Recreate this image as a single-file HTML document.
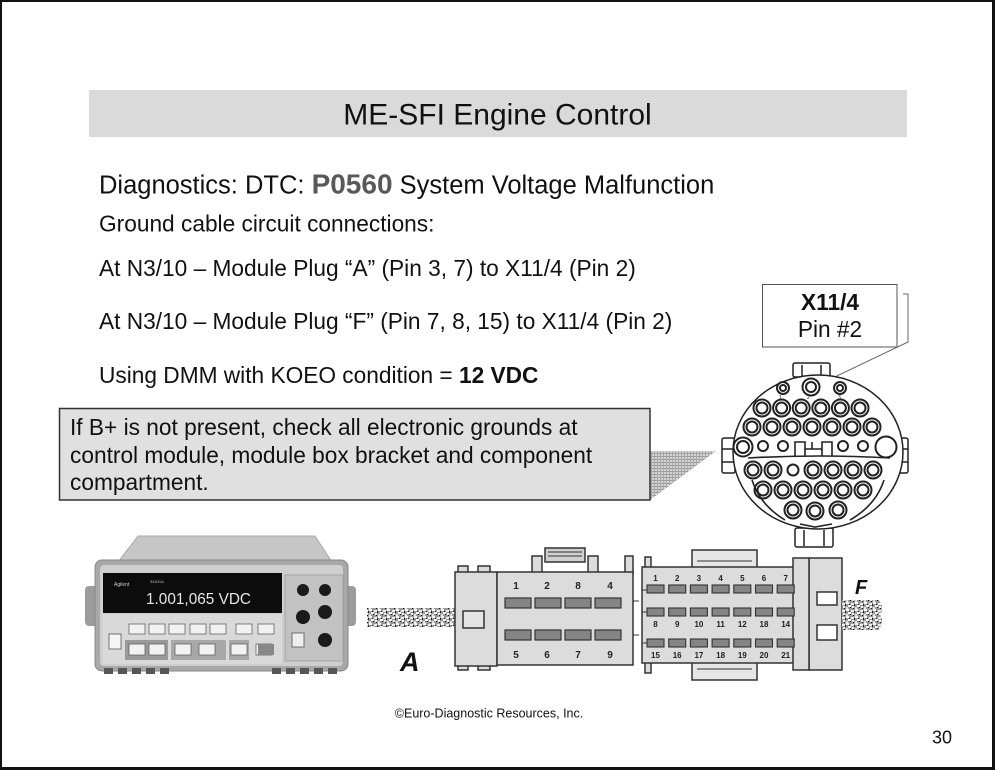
<!DOCTYPE html>
<html><head><meta charset="utf-8"><style>
html,body{margin:0;padding:0;background:#fff;}
svg{display:block;}
text{font-family:"Liberation Sans",Arial,sans-serif;}
</style></head><body>
<svg width="995" height="770" viewBox="0 0 995 770" xmlns="http://www.w3.org/2000/svg">
<defs>
<pattern id="spk" width="9" height="7" patternUnits="userSpaceOnUse">
<rect width="9" height="7" fill="#9a9a9a"/>
<rect x="0" y="0" width="3" height="2" fill="#f6f6f6"/>
<rect x="5" y="1" width="3" height="2" fill="#eeeeee"/>
<rect x="2" y="3" width="3" height="2" fill="#fafafa"/>
<rect x="6" y="4" width="2" height="2" fill="#f0f0f0"/>
<rect x="0" y="5" width="2" height="2" fill="#e2e2e2"/>
<rect x="4" y="5" width="1" height="1" fill="#111"/>
<rect x="8" y="2" width="1" height="2" fill="#222"/>
<rect x="3" y="2" width="1" height="1" fill="#222"/>
<rect x="7" y="6" width="1" height="1" fill="#111"/>
</pattern>
<pattern id="hatch" width="3" height="3" patternUnits="userSpaceOnUse">
<rect width="3" height="3" fill="#d4d4d4"/>
<rect x="0" y="0" width="3" height="1" fill="#9a9a9a"/>
<rect x="0" y="0" width="1" height="3" fill="#a8a8a8"/>
</pattern>
</defs>

<!-- page border -->
<rect x="0" y="0" width="995" height="2" fill="#111"/>
<rect x="0" y="0" width="2" height="770" fill="#111"/>
<rect x="992" y="0" width="3" height="770" fill="#111"/>
<rect x="0" y="767" width="995" height="3" fill="#111"/>

<!-- title bar -->
<rect x="89" y="90" width="818" height="47" fill="#dadada"/>
<text x="497.5" y="124.7" font-size="30" text-anchor="middle" fill="#111">ME-SFI Engine Control</text>

<!-- body text -->
<text x="99" y="193.5" font-size="25.5" fill="#111">Diagnostics: DTC: <tspan font-weight="bold" font-size="28" fill="#595959">P0560</tspan> System Voltage Malfunction</text>
<text x="99" y="231.6" font-size="22.7" fill="#111">Ground cable circuit connections:</text>
<text x="99" y="276" font-size="22.7" fill="#111">At N3/10 – Module Plug “A” (Pin 3, 7) to X11/4 (Pin 2)</text>
<text x="99" y="329" font-size="22.7" fill="#111">At N3/10 – Module Plug “F” (Pin 7, 8, 15) to X11/4 (Pin 2)</text>
<text x="99" y="383" font-size="22.7" fill="#111">Using DMM with KOEO condition = <tspan font-weight="bold">12 VDC</tspan></text>

<!-- callout -->
<polygon points="650,451 716,451 650,500" fill="url(#hatch)"/>
<rect x="59.5" y="408.5" width="590.5" height="91.5" fill="#e0e0e0" stroke="#333" stroke-width="1.5"/>
<text x="70" y="435" font-size="22.7" fill="#111">If B+ is not present, check all electronic grounds at</text>
<text x="70" y="463" font-size="22.7" fill="#111">control module, module box bracket and component</text>
<text x="70" y="490" font-size="22.7" fill="#111">compartment.</text>

<!-- X11/4 label -->
<rect x="762.5" y="284.5" width="134.5" height="62.5" fill="#fff" stroke="#555" stroke-width="1"/>
<text x="830" y="310" font-size="22.7" font-weight="bold" text-anchor="middle" fill="#111">X11/4</text>
<text x="830" y="337" font-size="22.7" text-anchor="middle" fill="#111">Pin #2</text>
<polyline points="903,294 908,294 908,342 820,384" fill="none" stroke="#666" stroke-width="1"/>

<!-- round connector -->
<g stroke="#222" fill="#fff" stroke-width="1.5">
<rect x="793" y="363" width="37" height="14" rx="2"/>
<line x1="802" y1="365" x2="802" y2="377"/><line x1="821" y1="365" x2="821" y2="377"/>
<rect x="795" y="528" width="38" height="19" rx="2"/>
<line x1="804" y1="530" x2="804" y2="546"/><line x1="824" y1="530" x2="824" y2="546"/>
<rect x="722" y="438" width="13" height="35" rx="2"/>
<line x1="722" y1="449" x2="735" y2="449"/><line x1="722" y1="462" x2="735" y2="462"/>
<rect x="896" y="438" width="12" height="35" rx="2"/>
<line x1="896" y1="449" x2="908" y2="449"/><line x1="896" y1="462" x2="908" y2="462"/>
<ellipse cx="818" cy="452" rx="85" ry="77"/>
</g>
<g stroke="#222" fill="#fff" stroke-width="2">
<circle cx="783" cy="388" r="6"/><circle cx="783" cy="388" r="3"/>
<circle cx="811" cy="387" r="8.5"/><circle cx="811" cy="387" r="5"/>
<circle cx="840" cy="388" r="6"/><circle cx="840" cy="388" r="3"/>
<circle cx="762" cy="408" r="8.5"/><circle cx="762" cy="408" r="5.5"/>
<circle cx="781.6" cy="408" r="8.5"/><circle cx="781.6" cy="408" r="5.5"/>
<circle cx="801.2" cy="408" r="8.5"/><circle cx="801.2" cy="408" r="5.5"/>
<circle cx="820.8" cy="408" r="8.5"/><circle cx="820.8" cy="408" r="5.5"/>
<circle cx="840.4" cy="408" r="8.5"/><circle cx="840.4" cy="408" r="5.5"/>
<circle cx="860" cy="408" r="8.5"/><circle cx="860" cy="408" r="5.5"/>
<circle cx="752" cy="427" r="8.5"/><circle cx="752" cy="427" r="5.5"/>
<circle cx="772" cy="427" r="8.5"/><circle cx="772" cy="427" r="5.5"/>
<circle cx="792" cy="427" r="8.5"/><circle cx="792" cy="427" r="5.5"/>
<circle cx="812" cy="427" r="8.5"/><circle cx="812" cy="427" r="5.5"/>
<circle cx="832" cy="427" r="8.5"/><circle cx="832" cy="427" r="5.5"/>
<circle cx="852" cy="427" r="8.5"/><circle cx="852" cy="427" r="5.5"/>
<circle cx="872" cy="427" r="8.5"/><circle cx="872" cy="427" r="5.5"/>
<circle cx="743" cy="447" r="9.5"/><circle cx="743" cy="447" r="6"/>
<circle cx="763" cy="446" r="5"/>
<circle cx="783" cy="446" r="5"/>
<circle cx="843" cy="446" r="5"/>
<circle cx="863" cy="446" r="5"/>
<circle cx="886" cy="447" r="10.5"/>
<circle cx="753" cy="470" r="8.5"/><circle cx="753" cy="470" r="5.5"/>
<circle cx="773" cy="470" r="8.5"/><circle cx="773" cy="470" r="5.5"/>
<circle cx="793" cy="470" r="5.5"/>
<circle cx="813" cy="470" r="8.5"/><circle cx="813" cy="470" r="5.5"/>
<circle cx="833" cy="470" r="8.5"/><circle cx="833" cy="470" r="5.5"/>
<circle cx="853" cy="470" r="8.5"/><circle cx="853" cy="470" r="5.5"/>
<circle cx="873" cy="470" r="8.5"/><circle cx="873" cy="470" r="5.5"/>
<circle cx="763" cy="490" r="8.5"/><circle cx="763" cy="490" r="5.5"/>
<circle cx="783" cy="490" r="8.5"/><circle cx="783" cy="490" r="5.5"/>
<circle cx="803" cy="490" r="8.5"/><circle cx="803" cy="490" r="5.5"/>
<circle cx="823" cy="490" r="8.5"/><circle cx="823" cy="490" r="5.5"/>
<circle cx="843" cy="490" r="8.5"/><circle cx="843" cy="490" r="5.5"/>
<circle cx="863" cy="490" r="8.5"/><circle cx="863" cy="490" r="5.5"/>
<circle cx="793" cy="510" r="8.5"/><circle cx="793" cy="510" r="5.5"/>
<circle cx="815" cy="511" r="8.5"/><circle cx="815" cy="511" r="5.5"/>
<circle cx="838" cy="510" r="8.5"/><circle cx="838" cy="510" r="5.5"/>
</g>
<g stroke="#222" fill="none" stroke-width="1.6">
<path d="M795,456 L795,442 L805,442 L805,456 M805,449 L822,449 M812,442 L812,449 M822,456 L822,442 L832,442 L832,456"/>
<path d="M748,458 Q818,454 890,458"/>
<path d="M752,480 Q760,505 785,520 M850,520 Q876,505 884,480"/>
<path d="M800,524 L815,527 L832,524"/>
</g>
<g font-size="5" fill="#222">
<text x="779" y="399">1</text><text x="807" y="399">2</text><text x="838" y="399">3</text>
</g>

<!-- DMM -->
<g>
<polygon points="138,536 315,536 332,562 118,562" fill="#c6c6c6" stroke="#aaa" stroke-width="1"/>
<rect x="85" y="586" width="14" height="40" rx="4" fill="#9c9c9c"/>
<rect x="344" y="586" width="12" height="40" rx="4" fill="#9c9c9c"/>
<rect x="95" y="560" width="253" height="111" rx="7" fill="#a8a8a8" stroke="#888" stroke-width="1"/>
<rect x="100" y="565" width="243" height="101" rx="4" fill="#cfcfcf"/>
<rect x="103" y="573" width="179" height="40" fill="#0c0c0c"/>
<text x="114" y="586" font-size="5" fill="#ccc">Agilent</text>
<text x="150" y="583" font-size="4" fill="#bbb">34401A</text>
<text x="146" y="604" font-family="Liberation Mono,monospace" font-size="16" fill="#e6e6e6" textLength="105" lengthAdjust="spacingAndGlyphs">1.001,065 VDC</text>
<rect x="285" y="575" width="58" height="86" fill="#c2c2c2" stroke="#999" stroke-width="0.8"/>
<g fill="#1a1a1a">
<circle cx="303" cy="590" r="6"/><circle cx="325" cy="590" r="6"/>
<circle cx="303" cy="617" r="7"/><circle cx="325" cy="612" r="7"/>
<circle cx="325" cy="640" r="7"/>
</g>
<rect x="292" y="633" width="12" height="14" fill="#eee" stroke="#555" stroke-width="0.8"/>
<rect x="103" y="614" width="179" height="50" fill="#d9d9d9"/>
<rect x="109" y="634" width="12" height="15" fill="#f5f5f5" stroke="#555" stroke-width="0.8"/>
<rect x="125" y="640" width="43" height="20" fill="#9a9a9a"/>
<rect x="171" y="640" width="55" height="20" fill="#a8a8a8"/>
<rect x="229" y="640" width="20" height="20" fill="#a8a8a8"/>
<g fill="#f2f2f2" stroke="#555" stroke-width="0.7">
<rect x="129" y="624" width="16" height="10"/><rect x="149" y="624" width="16" height="10"/>
<rect x="169" y="624" width="16" height="10"/><rect x="190" y="624" width="16" height="10"/>
<rect x="210" y="624" width="16" height="10"/><rect x="236" y="624" width="16" height="10"/>
<rect x="258" y="624" width="16" height="10"/>
<rect x="129" y="644" width="16" height="11"/><rect x="149" y="644" width="16" height="11"/>
<rect x="175" y="644" width="16" height="11"/><rect x="199" y="644" width="16" height="11"/>
<rect x="231" y="644" width="16" height="11"/><rect x="256" y="644" width="16" height="11"/>
</g>
<rect x="258" y="644" width="16" height="11" fill="#888"/>
<g fill="#555">
<rect x="104" y="668" width="9" height="6"/><rect x="118" y="668" width="9" height="6"/>
<rect x="132" y="668" width="9" height="6"/><rect x="146" y="668" width="9" height="6"/>
<rect x="160" y="668" width="9" height="6"/><rect x="272" y="668" width="9" height="6"/>
<rect x="286" y="668" width="9" height="6"/><rect x="300" y="668" width="9" height="6"/>
<rect x="314" y="668" width="9" height="6"/><rect x="328" y="668" width="9" height="6"/>
</g>
</g>

<!-- cable A -->
<rect x="367" y="608" width="88" height="19" fill="url(#spk)"/>
<text x="400" y="671" font-size="27" font-weight="bold" font-style="italic" fill="#111">A</text>

<!-- connector A -->
<g stroke="#333" stroke-width="1.5" fill="#dcdcdc">
<rect x="458" y="566" width="10" height="8"/><rect x="478" y="566" width="12" height="8"/>
<rect x="458" y="664" width="10" height="6"/><rect x="478" y="664" width="12" height="6"/>
<rect x="455" y="572" width="42" height="94"/>
<rect x="463" y="611" width="21" height="17" fill="#e4e4e4"/>
<rect x="545" y="548" width="40" height="14" fill="#cfcfcf"/>
<rect x="532" y="556" width="10" height="18"/><rect x="588" y="556" width="10" height="18"/>
<rect x="625" y="556" width="8" height="18"/>
<rect x="497" y="572" width="136" height="93"/>
</g>
<g stroke="#333" stroke-width="1" fill="none">
<line x1="548" y1="552" x2="582" y2="552"/><line x1="548" y1="556" x2="582" y2="556"/>
<line x1="633" y1="601" x2="639" y2="601"/><line x1="633" y1="635" x2="639" y2="635"/>
</g>
<g fill="#858585" stroke="#333" stroke-width="1.2">
<rect x="505" y="598" width="26" height="10"/><rect x="535" y="598" width="26" height="10"/>
<rect x="565" y="598" width="26" height="10"/><rect x="595" y="598" width="26" height="10"/>
<rect x="505" y="630" width="26" height="10"/><rect x="535" y="630" width="26" height="10"/>
<rect x="565" y="630" width="26" height="10"/><rect x="595" y="630" width="26" height="10"/>
</g>
<g font-size="10" font-weight="bold" fill="#222" text-anchor="middle">
<text x="516" y="589">1</text><text x="547" y="589">2</text><text x="578" y="589">8</text><text x="610" y="589">4</text>
<text x="516" y="658">5</text><text x="547" y="658">6</text><text x="578" y="658">7</text><text x="610" y="658">9</text>
</g>

<!-- connector F -->
<g stroke="#333" stroke-width="1.5" fill="#dcdcdc">
<rect x="692" y="550" width="65" height="18" fill="#e6e6e6"/>
<rect x="692" y="662" width="65" height="18" fill="#e6e6e6"/>
<rect x="645" y="557" width="6" height="11"/><rect x="645" y="662" width="6" height="11"/>
<rect x="642" y="567" width="152" height="96"/>
<rect x="809" y="558" width="33" height="112"/>
<rect x="793" y="558" width="16" height="112"/>
<rect x="817" y="592" width="20" height="13" fill="#fff"/>
<rect x="817" y="625" width="20" height="15" fill="#fff"/>
</g>
<g stroke="#333" stroke-width="1" fill="none">
<line x1="697" y1="561" x2="752" y2="561"/><line x1="697" y1="669" x2="752" y2="669"/>
<line x1="642" y1="590" x2="647" y2="590"/><line x1="642" y1="612" x2="647" y2="612"/><line x1="642" y1="643" x2="647" y2="643"/>
</g>
<g fill="#858585" stroke="#333" stroke-width="1.1">
<rect x="647" y="585" width="17" height="8"/><rect x="668.7" y="585" width="17" height="8"/><rect x="690.4" y="585" width="17" height="8"/><rect x="712.1" y="585" width="17" height="8"/><rect x="733.8" y="585" width="17" height="8"/><rect x="755.5" y="585" width="17" height="8"/><rect x="777.2" y="585" width="17" height="8"/>
<rect x="647" y="608" width="17" height="8"/><rect x="668.7" y="608" width="17" height="8"/><rect x="690.4" y="608" width="17" height="8"/><rect x="712.1" y="608" width="17" height="8"/><rect x="733.8" y="608" width="17" height="8"/><rect x="755.5" y="608" width="17" height="8"/><rect x="777.2" y="608" width="17" height="8"/>
<rect x="647" y="639" width="17" height="8"/><rect x="668.7" y="639" width="17" height="8"/><rect x="690.4" y="639" width="17" height="8"/><rect x="712.1" y="639" width="17" height="8"/><rect x="733.8" y="639" width="17" height="8"/><rect x="755.5" y="639" width="17" height="8"/><rect x="777.2" y="639" width="17" height="8"/>
</g>
<g font-size="8" font-weight="bold" fill="#222" text-anchor="middle">
<text x="655.5" y="581">1</text><text x="677.2" y="581">2</text><text x="698.9" y="581">3</text><text x="720.6" y="581">4</text><text x="742.3" y="581">5</text><text x="764" y="581">6</text><text x="785.7" y="581">7</text>
<text x="655.5" y="627">8</text><text x="677.2" y="627">9</text><text x="698.9" y="627">10</text><text x="720.6" y="627">11</text><text x="742.3" y="627">12</text><text x="764" y="627">18</text><text x="785.7" y="627">14</text>
<text x="655.5" y="658">15</text><text x="677.2" y="658">16</text><text x="698.9" y="658">17</text><text x="720.6" y="658">18</text><text x="742.3" y="658">19</text><text x="764" y="658">20</text><text x="785.7" y="658">21</text>
</g>
<path d="M842,600 L879,600 Q884,608 880,615 Q884,622 879,630 L842,630 Z" fill="url(#spk)"/>
<text x="855" y="594" font-size="20" font-weight="bold" font-style="italic" fill="#111">F</text>

<!-- footer -->
<text x="489" y="717.5" font-size="12.5" text-anchor="middle" fill="#111">©Euro-Diagnostic Resources, Inc.</text>
<text x="932" y="743.5" font-size="18" fill="#111">30</text>
</svg>
</body></html>
